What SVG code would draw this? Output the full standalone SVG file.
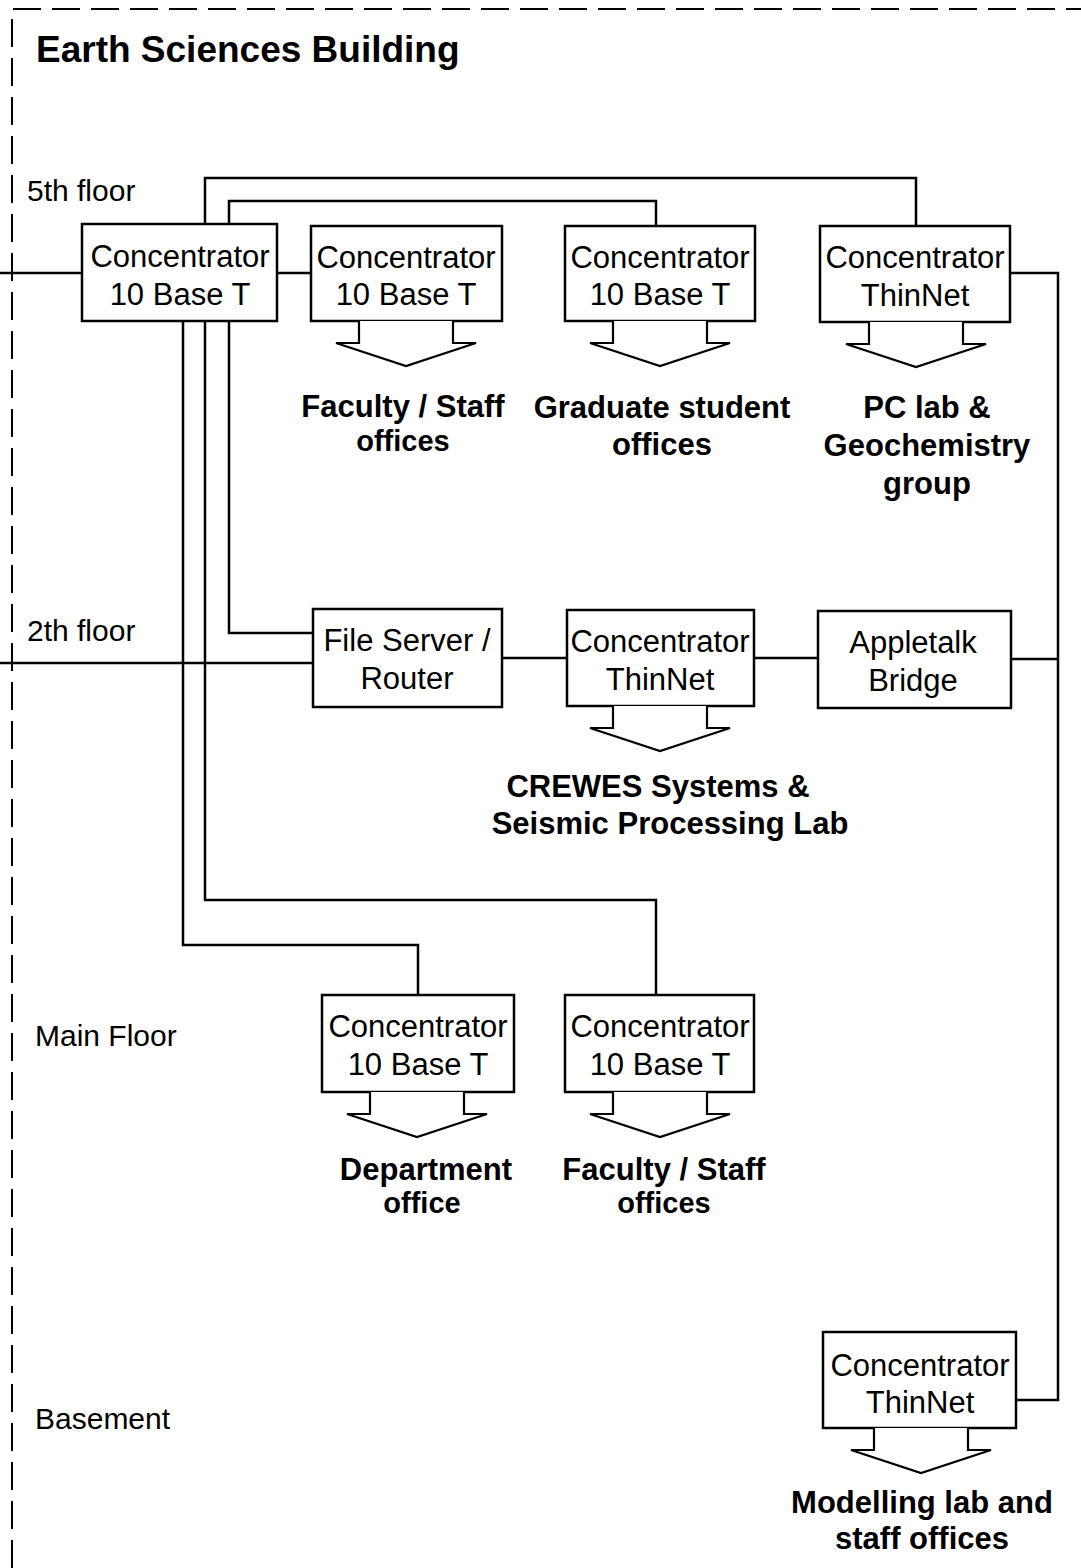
<svg xmlns="http://www.w3.org/2000/svg" width="1081" height="1568" viewBox="0 0 1081 1568">
<style>
.box{fill:#fff;stroke:#000;stroke-width:2.5}
.ln{fill:none;stroke:#000;stroke-width:2.5}
.arr{fill:#fff;stroke:#000;stroke-width:2.2;stroke-linejoin:miter}
.bt{font-family:"Liberation Sans",Arial,sans-serif;font-size:31px;text-anchor:middle;fill:#000}
.lb{font-family:"Liberation Sans",Arial,sans-serif;font-size:31px;font-weight:bold;text-anchor:middle;fill:#000}
.lbs{font-family:"Liberation Sans",Arial,sans-serif;font-size:29px;font-weight:bold;text-anchor:middle;fill:#000}
.fl{font-family:"Liberation Sans",Arial,sans-serif;font-size:30px;fill:#000}
.border{fill:none;stroke:#000;stroke-width:2;stroke-dasharray:28 11}
</style>
<defs>
<path id="arrow" d="M-47,0 V22 H-70 L0,45 L70,22 H47 V0"/>
</defs>
<rect width="1081" height="1568" fill="#fff"/>
<path class="border" d="M12,1568 V9 H1081"/>
<text x="36" y="62" font-family="Liberation Sans, Arial, sans-serif" font-size="37" font-weight="bold">Earth Sciences Building</text>
<text class="fl" x="27" y="201">5th floor</text>
<text class="fl" x="27" y="641">2th floor</text>
<text class="fl" x="35" y="1046">Main Floor</text>
<text class="fl" x="35" y="1429">Basement</text>

<g id="connectors">
<path class="ln" d="M0,273 H82"/>
<path class="ln" d="M277,273 H311"/>
<path class="ln" d="M205,224 V178 H916 V226"/>
<path class="ln" d="M229,224 V201 H656 V226"/>
<path class="ln" d="M1010,273 H1058 V1400 H1016"/>
<path class="ln" d="M1011,659 H1058"/>
<path class="ln" d="M229,321 V633 H313"/>
<path class="ln" d="M205,321 V900 H656 V995"/>
<path class="ln" d="M183,321 V945 H418 V995"/>
<path class="ln" d="M0,663 H313"/>
<path class="ln" d="M502,658 H567"/>
<path class="ln" d="M754,658 H818"/>
</g>

<g id="n5-1"><rect class="box" x="82" y="224" width="195" height="97"/><text class="bt" x="180" y="267">Concentrator</text><text class="bt" x="180" y="305">10 Base T</text></g>

<g id="n5-2"><rect class="box" x="311" y="226" width="191" height="95"/><text class="bt" x="406" y="268">Concentrator</text><text class="bt" x="406" y="305">10 Base T</text>
<use href="#arrow" class="arr" x="406" y="321"/>
<text class="lb" x="403" y="417">Faculty / Staff</text><text class="lbs" x="403" y="451">offices</text></g>

<g id="n5-3"><rect class="box" x="565" y="226" width="190" height="95"/><text class="bt" x="660" y="268">Concentrator</text><text class="bt" x="660" y="305">10 Base T</text>
<use href="#arrow" class="arr" x="660" y="321"/>
<text class="lb" x="662" y="418">Graduate student</text><text class="lb" x="662" y="455">offices</text></g>

<g id="n5-4"><rect class="box" x="820" y="226" width="190" height="96"/><text class="bt" x="915" y="268">Concentrator</text><text class="bt" x="915" y="306">ThinNet</text>
<use href="#arrow" class="arr" x="916" y="322"/>
<text class="lb" x="927" y="418">PC lab &amp;</text><text class="lb" x="927" y="456">Geochemistry</text><text class="lb" x="927" y="494">group</text></g>

<g id="n2-1"><rect class="box" x="313" y="609" width="189" height="98"/><text class="bt" x="407" y="651">File Server /</text><text class="bt" x="407" y="689">Router</text></g>

<g id="n2-2"><rect class="box" x="567" y="610" width="187" height="96"/><text class="bt" x="660" y="652">Concentrator</text><text class="bt" x="660" y="690">ThinNet</text>
<use href="#arrow" class="arr" x="660" y="706"/>
<text class="lb" x="658" y="797">CREWES Systems &amp;</text><text class="lb" x="670" y="834">Seismic Processing Lab</text></g>

<g id="n2-3"><rect class="box" x="818" y="611" width="193" height="97"/><text class="bt" x="913" y="653">Appletalk</text><text class="bt" x="913" y="691">Bridge</text></g>

<g id="nm-1"><rect class="box" x="322" y="995" width="192" height="97"/><text class="bt" x="418" y="1037">Concentrator</text><text class="bt" x="418" y="1075">10 Base T</text>
<use href="#arrow" class="arr" x="417" y="1092"/>
<text class="lb" x="426" y="1180">Department</text><text class="lbs" x="422" y="1213">office</text></g>

<g id="nm-2"><rect class="box" x="565" y="995" width="189" height="97"/><text class="bt" x="660" y="1037">Concentrator</text><text class="bt" x="660" y="1075">10 Base T</text>
<use href="#arrow" class="arr" x="660" y="1092"/>
<text class="lb" x="664" y="1180">Faculty / Staff</text><text class="lbs" x="664" y="1213">offices</text></g>

<g id="nb-1"><rect class="box" x="823" y="1332" width="193" height="96"/><text class="bt" x="920" y="1376">Concentrator</text><text class="bt" x="920" y="1413">ThinNet</text>
<use href="#arrow" class="arr" x="921" y="1428"/>
<text class="lb" x="922" y="1513">Modelling lab and</text><text class="lb" x="922" y="1549">staff offices</text></g>
</svg>
